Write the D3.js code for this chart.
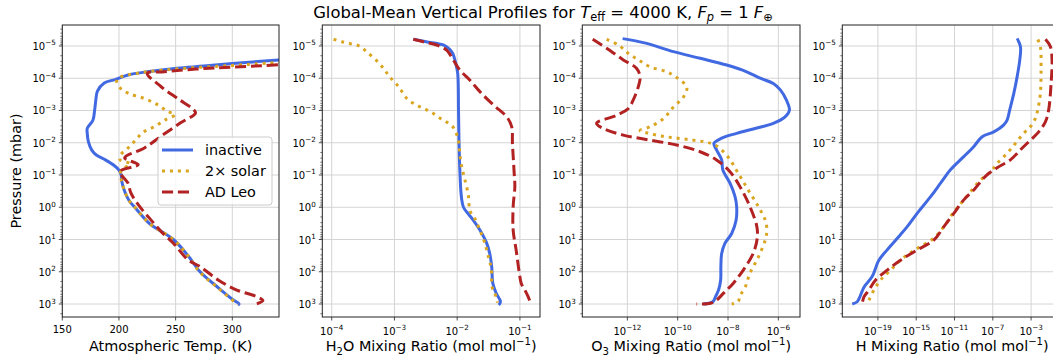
<!DOCTYPE html>
<html>
<head>
<meta charset="utf-8">
<script src="https://cdn.jsdelivr.net/npm/d3@7"></script>
<style>
  body { margin: 0; background: #fff; }
  svg { display: block; }
  text { font-family: "DejaVu Sans", sans-serif; fill: #000; }
</style>
</head>
<body>
<svg id="chart" width="1053" height="360"></svg>
<script>
// ---- Data: [pressure (mbar), value] pairs, top of atmosphere first ----
const seriesNames = ["inactive", "2\u00d7 solar", "AD Leo"];

// Atmospheric temperature (K)
const tempInactive = [[6.3e-6,540],[1e-5,480],[1.6e-5,420],[2.7e-5,341],[3.5e-5,300],[4.2e-5,275],[4.9e-5,251],[6.3e-5,225],[7.9e-5,208],[1.1e-4,196.5],[1.4e-4,187],[2.5e-4,181],[5e-4,179.5],[1e-3,178.5],[2e-3,177],[3.6e-3,172],[5e-3,172],[9.3e-3,173],[1.7e-2,176],[2.4e-2,180],[3.4e-2,188],[5e-2,195.5],[7.1e-2,200],[0.1,202],[0.16,202.5],[0.32,205],[0.63,209],[1,214],[3.2,227],[10,248],[32,261],[100,271.5],[320,288],[710,300],[1000,306],[1070,305]];
const tempSolar = [[6.3e-6,560],[1e-5,500],[1.6e-5,430],[3.2e-5,341],[4e-5,300],[5e-5,255],[6.3e-5,225],[7.9e-5,208],[1e-4,199],[1.26e-4,198],[2e-4,201],[2.9e-4,208],[4.2e-4,222],[6.6e-4,234],[1.07e-3,243],[1.35e-3,249.5],[1.95e-3,241],[3.2e-3,231],[4.8e-3,221],[8.1e-3,215],[1.45e-2,208],[2.5e-2,201],[3.4e-2,201],[4.5e-2,210],[6.3e-2,204],[8.9e-2,201],[0.16,202.5],[0.32,205],[0.63,209],[1,214],[3.2,227],[10,248],[32,261],[100,271],[320,287.5],[890,302.5],[1050,305]];
const tempADLeo = [[6.3e-6,620],[1e-5,540],[1.6e-5,470],[2.5e-5,400],[3.8e-5,341],[4.5e-5,300],[5.2e-5,268],[6.3e-5,240],[7.1e-5,225],[1.8e-4,237],[4.2e-4,251.5],[9.5e-4,266],[1.2e-3,267.5],[2.45e-3,254],[6.3e-3,237],[1.45e-2,222.5],[2.95e-2,205],[4.8e-2,217],[7.8e-2,201],[0.18,208],[0.36,210.5],[0.93,218],[2.1,226.5],[5.8,237.5],[13,248],[43,261],[69,271.5],[180,287.5],[370,304],[590,321.5],[790,327],[1070,318]];

// H2O mixing ratio (mol/mol)
const h2oInactive = [[6.2e-6,2.0e-3],[7.4e-6,3.2e-3],[9.3e-6,6.0e-3],[1.26e-5,7.6e-3],[1.7e-5,8.5e-3],[3.5e-5,9.5e-3],[7.1e-5,1.02e-2],[1e-3,1.05e-2],[1e-2,1.07e-2],[0.1,1.11e-2],[0.5,1.17e-2],[1,1.26e-2],[1.6,1.5e-2],[2.5,1.8e-2],[5.1,2.3e-2],[13,2.95e-2],[27,3.3e-2],[69,3.55e-2],[230,3.7e-2],[470,4.2e-2],[850,4.9e-2],[1070,4.6e-2]];
const h2oSolar = [[6.2e-6,1.07e-4],[7.4e-6,1.45e-4],[8.5e-6,2.0e-4],[1e-5,2.75e-4],[1.5e-5,3.6e-4],[3.2e-5,5.5e-4],[5.8e-5,7.1e-4],[9.3e-5,8.5e-4],[1.6e-4,1.1e-3],[2.5e-4,1.3e-3],[4.4e-4,1.6e-3],[6.3e-4,2.1e-3],[8.3e-4,2.8e-3],[1.1e-3,3.8e-3],[1.6e-3,5.0e-3],[2.2e-3,6.6e-3],[3.2e-3,8.5e-3],[5.4e-3,9.8e-3],[1.1e-2,1.07e-2],[2.2e-2,1.1e-2],[5.1e-2,1.17e-2],[0.12,1.3e-2],[0.4,1.5e-2],[1.3,1.6e-2],[2.2,1.9e-2],[4.6,2.25e-2],[12.6,2.75e-2],[40,3.2e-2],[81,3.5e-2],[300,3.6e-2],[470,4.0e-2],[910,4.4e-2]];
const h2oADLeo = [[6.2e-6,2.0e-3],[7.4e-6,2.9e-3],[9.3e-6,4.7e-3],[1.35e-5,6.8e-3],[2.75e-5,8.7e-3],[5.6e-5,1.1e-2],[1.15e-4,1.6e-2],[2.6e-4,2.3e-2],[6.8e-4,3.8e-2],[1.6e-3,6.2e-2],[3.2e-3,7.4e-2],[1.05e-2,7.6e-2],[8.9e-2,8.1e-2],[0.23,8.3e-2],[0.95,7.8e-2],[5.1,7.8e-2],[21,8.7e-2],[112,9.8e-2],[230,0.105],[370,0.12],[590,0.135],[850,0.145]];

// O3 mixing ratio (mol/mol)
const o3Inactive = [[5.9e-6,6.5e-13],[8.3e-6,5.9e-12],[1.5e-5,6.8e-11],[2.4e-5,7.8e-10],[3.9e-5,8.9e-9],[6.3e-5,5.5e-8],[1e-4,1.9e-7],[1.45e-4,6.3e-7],[2.3e-4,1.2e-6],[4.8e-4,2.1e-6],[9.8e-4,2.75e-6],[1.6e-3,1.8e-6],[2.5e-3,6.3e-7],[3.5e-3,1.4e-7],[5.1e-3,2.2e-8],[7.2e-3,5.6e-9],[1.05e-2,2.75e-9],[1.65e-2,3.5e-9],[3.4e-2,5.6e-9],[6.9e-2,6.2e-9],[0.18,1.2e-8],[0.47,1.9e-8],[0.95,2.2e-8],[2.5,2.1e-8],[6.5,1.4e-8],[13,7.6e-9],[27,5.6e-9],[69,5.2e-9],[180,5.1e-9],[370,4.2e-9],[590,3.2e-9],[850,2.5e-9],[1000,1.05e-9]];
const o3Solar = [[6.2e-6,1.5e-13],[9.3e-6,4.4e-13],[1.7e-5,1.1e-12],[2.7e-5,2.75e-12],[4.4e-5,7.9e-12],[6.3e-5,3.6e-11],[9.5e-5,9.1e-11],[1.9e-4,2.3e-10],[3.8e-4,1.7e-10],[7.8e-4,6.8e-11],[1.8e-3,2.7e-11],[3.2e-3,7.9e-12],[4.2e-3,3.2e-12],[5e-3,6.3e-12],[6.3e-3,2.5e-11],[7.2e-3,1e-10],[8.3e-3,4e-10],[9.5e-3,1.26e-9],[1.2e-2,3.2e-9],[2.75e-2,1.0e-8],[9.1e-2,2.6e-8],[0.3,6.5e-8],[0.95,1.6e-7],[2.5,3.0e-7],[5.1,3.5e-7],[10.5,3.0e-7],[35,1.6e-7],[112,7.4e-8],[300,4.8e-8],[560,3.0e-8],[850,2.5e-8],[1000,1.4e-8]];
const o3ADLeo = [[6.2e-6,4.2e-14],[1.17e-5,1.5e-13],[2.7e-5,6.9e-13],[4.9e-5,2.3e-12],[8.9e-5,3.2e-12],[1.8e-4,2.75e-12],[4.8e-4,1.7e-12],[8.7e-4,1.1e-12],[1.4e-3,3.8e-13],[2.5e-3,6.0e-14],[3.6e-3,1.1e-13],[5.8e-3,6.9e-13],[8.3e-3,7.9e-12],[1.17e-2,9.1e-11],[1.9e-2,7.8e-10],[3.4e-2,3.5e-9],[7.9e-2,1.2e-8],[0.23,3.0e-8],[0.95,7.4e-8],[4.0,1.4e-7],[9.1,1.45e-7],[27,1.0e-7],[87,4.1e-8],[230,1.6e-8],[470,6.5e-9],[760,3.5e-9],[950,2.0e-9],[1000,5.6e-10]];

// H mixing ratio (mol/mol)
const hInactive = [[5.8e-6,3.5e-5],[1.05e-5,7.8e-5],[2.7e-5,6.6e-5],[8.9e-5,3.5e-5],[3.0e-4,1.55e-5],[9.5e-4,5.9e-6],[1.95e-3,3.2e-6],[2.8e-3,1.4e-6],[4.6e-3,1.26e-7],[6.5e-3,7.8e-9],[1.3e-2,1.05e-9],[2.7e-2,9.3e-11],[6.9e-2,3.8e-12],[0.18,3.5e-13],[0.47,3.2e-14],[1.55,1.26e-15],[4.0,1.15e-16],[8.1,1.55e-17],[21,9.3e-19],[44,1.26e-19],[141,2.5e-20],[300,3.5e-21],[600,1.3e-21],[850,6.9e-22],[1000,2.1e-22]];
const hSolar = [[6.3e-6,5.0e-3],[1.05e-5,9.3e-3],[4.4e-5,1.1e-2],[3.0e-4,9.3e-3],[9.5e-4,5.0e-3],[1.75e-3,2.8e-3],[3.2e-3,8.5e-4],[5.1e-3,1.7e-4],[1.05e-2,2.3e-5],[2.1e-2,3.2e-6],[4.4e-2,2.8e-7],[7.9e-2,5.8e-8],[0.145,5.1e-9],[0.33,4.7e-10],[0.68,6.3e-11],[1.4,8.5e-12],[4.0,7.8e-13],[9.1,6.9e-14],[19,1.26e-15],[39,3.5e-17],[89,2.1e-18],[180,1.9e-19],[370,3.8e-20],[760,1.15e-20],[910,7.9e-21]];
const hADLeo = [[6.2e-6,3.2e-2],[1.05e-5,0.105],[2.7e-5,0.155],[1.45e-4,0.123],[9.5e-4,6.9e-2],[2.2e-3,3.2e-2],[4.6e-3,6.3e-3],[8.3e-3,8.5e-4],[1.65e-2,7.8e-5],[3.4e-2,6.9e-6],[6.0e-2,2.8e-7],[0.11,1.7e-8],[0.29,1.05e-9],[0.59,9.3e-11],[1.55,8.5e-12],[4.0,7.8e-13],[10.5,6.9e-14],[21,1.26e-15],[44,2.3e-17],[89,9.3e-19],[180,5.8e-20],[370,1.15e-20],[600,3.5e-21],[950,2.3e-21]];

// Tick values
const pressureTicks = [1e-5,1e-4,1e-3,1e-2,1e-1,1e0,1e1,1e2,1e3];
const tempTicks = [150,200,250,300];
const h2oTicks = [1e-4,1e-3,1e-2,1e-1];
const o3Ticks = [1e-12,1e-10,1e-8,1e-6];
const hTicks = [1e-19,1e-15,1e-11,1e-7,1e-3];

// ---- Styles ----
const lineColors = ["#4169e1", "#daa520", "#b22222"];
const lineDash = [null, "3,4.95", "11.1,4.8"];
const LW = 3;

const svg = d3.select("#chart");
const plotTop = 25, plotBottom = 317;

const y = d3.scaleLog().domain([Math.pow(10,-5.651), Math.pow(10,3.403)]).range([plotTop, plotBottom]);

const panels = [
  { x0: 62.3, x1: 279, log: false, domain: [150, 341.2], ticks: tempTicks,
    data: [tempInactive, tempSolar, tempADLeo], label: [["Atmospheric Temp. (K)"]] },
  { x0: 322.3, x1: 540, log: true, domain: [Math.pow(10,-4.15), Math.pow(10,-0.68)], ticks: h2oTicks,
    data: [h2oInactive, h2oSolar, h2oADLeo], label: [["H"],["2","sub"],["O Mixing Ratio (mol mol"],["\u22121","sup"],[")"]] },
  { x0: 582.3, x1: 800, log: true, domain: [Math.pow(10,-13.79), Math.pow(10,-5.14)], ticks: o3Ticks,
    data: [o3Inactive, o3Solar, o3ADLeo], label: [["O"],["3","sub"],[" Mixing Ratio (mol mol"],["\u22121","sup"],[")"]] },
  { x0: 842.3, x1: 1062, log: true, domain: [Math.pow(10,-22.72), Math.pow(10,0.23)], ticks: hTicks,
    data: [hInactive, hSolar, hADLeo], label: [["H Mixing Ratio (mol mol"],["\u22121","sup"],[")"]] }
];

function expLabel(sel, v) {
  const e = Math.round(Math.log10(v));
  sel.append("tspan").text("10");
  sel.append("tspan").attr("dy", -4.5).attr("font-size", 7.2).text(e < 0 ? "\u2212" + (-e) : String(e));
}

function richText(sel, parts) {
  let shift = 0;
  parts.forEach(([t, kind]) => {
    const target = kind === "sub" ? 3.5 : kind === "sup" ? -6 : 0;
    const ts = sel.append("tspan").attr("dy", target - shift).text(t);
    if (kind) ts.attr("font-size", "0.7em");
    shift = target;
  });
}

// minor pressure ticks (2..9 per decade)
const minorP = [];
for (let d = -6; d <= 3; d++) for (let m = 2; m <= 9; m++) {
  const v = m * Math.pow(10, d);
  if (v >= y.domain()[0] && v <= y.domain()[1]) minorP.push(v);
}

panels.forEach((p, i) => {
  const x = (p.log ? d3.scaleLog() : d3.scaleLinear()).domain(p.domain).range([p.x0, p.x1]);
  const g = svg.append("g");

  const clipId = "clip" + i;
  svg.append("clipPath").attr("id", clipId)
    .append("rect").attr("x", p.x0).attr("y", plotTop).attr("width", p.x1 - p.x0).attr("height", plotBottom - plotTop);

  // grid
  g.selectAll(".gx").data(p.ticks).join("line")
    .attr("x1", d => x(d)).attr("x2", d => x(d)).attr("y1", plotTop).attr("y2", plotBottom)
    .attr("stroke", "#d4d4d4").attr("stroke-width", 1);
  g.selectAll(".gy").data(pressureTicks).join("line")
    .attr("x1", p.x0).attr("x2", p.x1).attr("y1", d => y(d)).attr("y2", d => y(d))
    .attr("stroke", "#d4d4d4").attr("stroke-width", 1);

  // profiles
  const line = d3.line().x(d => x(d[1])).y(d => y(d[0])).curve(d3.curveCatmullRom.alpha(0.5));
  const lg = g.append("g").attr("clip-path", `url(#${clipId})`);
  p.data.forEach((series, k) => {
    lg.append("path").datum(series)
      .attr("d", line)
      .attr("fill", "none")
      .attr("stroke", lineColors[k])
      .attr("stroke-width", LW)
      .attr("stroke-linejoin", "round")
      .attr("stroke-linecap", "butt")
      .attr("stroke-dasharray", lineDash[k]);
  });

  // frame
  g.append("rect").attr("x", p.x0).attr("y", plotTop).attr("width", p.x1 - p.x0).attr("height", plotBottom - plotTop)
    .attr("fill", "none").attr("stroke", "#222").attr("stroke-width", 1);

  // y ticks
  g.selectAll(".ym").data(minorP).join("line")
    .attr("x1", p.x0 - 2).attr("x2", p.x0).attr("y1", d => y(d)).attr("y2", d => y(d))
    .attr("stroke", "#222").attr("stroke-width", 0.6);
  g.selectAll(".yM").data(pressureTicks).join("line")
    .attr("x1", p.x0 - 3.5).attr("x2", p.x0).attr("y1", d => y(d)).attr("y2", d => y(d))
    .attr("stroke", "#222").attr("stroke-width", 0.8);
  g.selectAll(".yl").data(pressureTicks).join("text")
    .attr("x", p.x0 - 6.5).attr("y", d => y(d) + 4)
    .attr("text-anchor", "end").attr("font-size", 10)
    .each(function(d) { expLabel(d3.select(this), d); });

  // x ticks
  g.selectAll(".xM").data(p.ticks).join("line")
    .attr("x1", d => x(d)).attr("x2", d => x(d)).attr("y1", plotBottom).attr("y2", plotBottom + 3.5)
    .attr("stroke", "#222").attr("stroke-width", 0.8);
  g.selectAll(".xl").data(p.ticks).join("text")
    .attr("x", d => x(d)).attr("y", p.log ? 334.5 : 333.3)
    .attr("text-anchor", "middle").attr("font-size", 10)
    .each(function(d) {
      if (p.log) expLabel(d3.select(this), d); else d3.select(this).text(d);
    });

  // x label
  const xl = g.append("text").attr("x", (p.x0 + p.x1) / 2).attr("y", 351)
    .attr("text-anchor", "middle").attr("font-size", 14.4);
  richText(xl, p.label);
});

// y axis label
svg.append("text")
  .attr("transform", `translate(20.5,${(plotTop + plotBottom) / 2}) rotate(-90)`)
  .attr("text-anchor", "middle").attr("font-size", 14.4)
  .text("Pressure (mbar)");

// title
const title = svg.append("text").attr("x", 543).attr("y", 18).attr("text-anchor", "middle").attr("font-size", 16.4);
title.append("tspan").text("Global-Mean Vertical Profiles for ");
title.append("tspan").attr("font-style", "italic").text("T");
title.append("tspan").attr("font-size", 11.4).attr("dy", 3).text("eff");
title.append("tspan").attr("dy", -3).text(" = 4000 K, ");
title.append("tspan").attr("font-style", "italic").text("F");
title.append("tspan").attr("font-style", "italic").attr("font-size", 11.4).attr("dy", 3).text("p");
title.append("tspan").attr("dy", -3).text(" = 1 ");
title.append("tspan").attr("font-style", "italic").text("F");
title.append("tspan").attr("font-size", 11.4).attr("dy", 3).text("\u2295");

// legend
const leg = svg.append("g");
leg.append("rect").attr("x", 158).attr("y", 137).attr("width", 114).attr("height", 68).attr("rx", 3)
  .attr("fill", "#fff").attr("fill-opacity", 0.8).attr("stroke", "#cccccc").attr("stroke-width", 1);
seriesNames.forEach((name, k) => {
  const cy = 150 + k * 21;
  leg.append("line").attr("x1", 162).attr("x2", 193).attr("y1", cy).attr("y2", cy)
    .attr("stroke", lineColors[k]).attr("stroke-width", LW).attr("stroke-dasharray", lineDash[k]);
  leg.append("text").attr("x", 205).attr("y", cy + 5).attr("font-size", 14.4).text(name);
});
</script>
</body>
</html>
